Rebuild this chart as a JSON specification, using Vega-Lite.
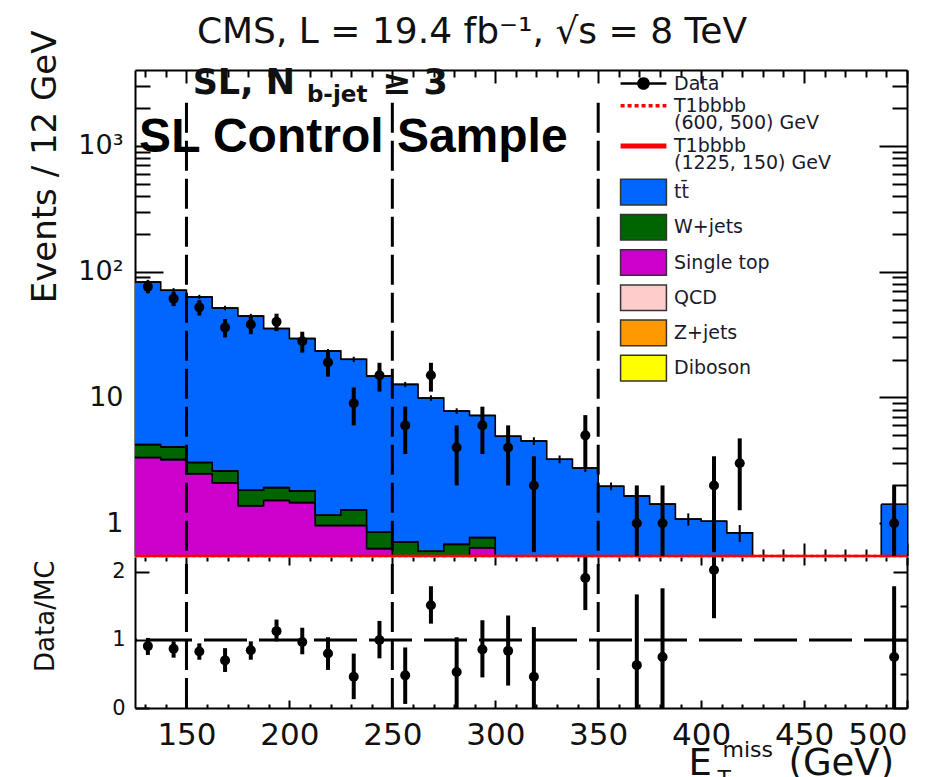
{
  "$schema": "https://vega.github.io/schema/vega-lite/v6.json",
  "width": 772,
  "height": 638,
  "autosize": {"type": "none"},
  "padding": {"left": 135, "top": 70, "right": 34, "bottom": 69},
  "background": "#ffffff",
  "title": {
    "text": "CMS, L = 19.4 fb\u207b\u00b9, \u221as = 8 TeV",
    "anchor": "middle",
    "frame": "group",
    "dx": -49,
    "offset": -49,
    "baseline": "alphabetic",
    "font": "DejaVu Sans",
    "fontSize": 36,
    "fontWeight": "normal",
    "color": "#111111"
  },
  "config": {
    "view": {"stroke": null},
    "font": "DejaVu Sans",
    "axis": {
      "grid": false,
      "zindex": 1,
      "domainColor": "#000000",
      "domainWidth": 2,
      "tickColor": "#000000",
      "tickWidth": 2,
      "labelColor": "#111111",
      "titleColor": "#111111",
      "labelFont": "DejaVu Sans",
      "titleFont": "DejaVu Sans",
      "titleFontWeight": "normal",
      "labelOverlap": false,
      "labelBound": false
    }
  },
  "datasets": {
    "mc": [
      {"lo": 125, "hi": 137.5, "process": "tt\u0304", "n": 78.58},
      {"lo": 137.5, "hi": 150, "process": "tt\u0304", "n": 67.06},
      {"lo": 150, "hi": 162.5, "process": "tt\u0304", "n": 59.86},
      {"lo": 162.5, "hi": 175, "process": "tt\u0304", "n": 48.8},
      {"lo": 175, "hi": 187.5, "process": "tt\u0304", "n": 42.57},
      {"lo": 187.5, "hi": 200, "process": "tt\u0304", "n": 33.38},
      {"lo": 200, "hi": 212.5, "process": "tt\u0304", "n": 27.59},
      {"lo": 212.5, "hi": 225, "process": "tt\u0304", "n": 22.24},
      {"lo": 225, "hi": 237.5, "process": "tt\u0304", "n": 18.82},
      {"lo": 237.5, "hi": 250, "process": "tt\u0304", "n": 13.95},
      {"lo": 250, "hi": 262.5, "process": "tt\u0304", "n": 11.99},
      {"lo": 262.5, "hi": 275, "process": "tt\u0304", "n": 9.3},
      {"lo": 275, "hi": 287.5, "process": "tt\u0304", "n": 7.12},
      {"lo": 287.5, "hi": 300, "process": "tt\u0304", "n": 6.43},
      {"lo": 300, "hi": 312.5, "process": "tt\u0304", "n": 4.92},
      {"lo": 312.5, "hi": 325, "process": "tt\u0304", "n": 4.51},
      {"lo": 325, "hi": 337.5, "process": "tt\u0304", "n": 3.23},
      {"lo": 337.5, "hi": 350, "process": "tt\u0304", "n": 2.75},
      {"lo": 350, "hi": 362.5, "process": "tt\u0304", "n": 1.97},
      {"lo": 362.5, "hi": 375, "process": "tt\u0304", "n": 1.65},
      {"lo": 375, "hi": 387.5, "process": "tt\u0304", "n": 1.42},
      {"lo": 387.5, "hi": 400, "process": "tt\u0304", "n": 1.08},
      {"lo": 400, "hi": 412.5, "process": "tt\u0304", "n": 1.04},
      {"lo": 412.5, "hi": 425, "process": "tt\u0304", "n": 0.84},
      {"lo": 425, "hi": 437.5, "process": "tt\u0304", "n": 0},
      {"lo": 437.5, "hi": 450, "process": "tt\u0304", "n": 0},
      {"lo": 450, "hi": 462.5, "process": "tt\u0304", "n": 0},
      {"lo": 462.5, "hi": 475, "process": "tt\u0304", "n": 0},
      {"lo": 475, "hi": 487.5, "process": "tt\u0304", "n": 0},
      {"lo": 487.5, "hi": 500, "process": "tt\u0304", "n": 1.42},
      {"lo": 125, "hi": 137.5, "process": "W+jets", "n": 0.89},
      {"lo": 137.5, "hi": 150, "process": "W+jets", "n": 0.83},
      {"lo": 150, "hi": 162.5, "process": "W+jets", "n": 0.56},
      {"lo": 162.5, "hi": 175, "process": "W+jets", "n": 0.51},
      {"lo": 175, "hi": 187.5, "process": "W+jets", "n": 0.45},
      {"lo": 187.5, "hi": 200, "process": "W+jets", "n": 0.4},
      {"lo": 200, "hi": 212.5, "process": "W+jets", "n": 0.35},
      {"lo": 212.5, "hi": 225, "process": "W+jets", "n": 0.2},
      {"lo": 225, "hi": 237.5, "process": "W+jets", "n": 0.32},
      {"lo": 237.5, "hi": 250, "process": "W+jets", "n": 0.22},
      {"lo": 250, "hi": 262.5, "process": "W+jets", "n": 0.71},
      {"lo": 262.5, "hi": 275, "process": "W+jets", "n": 0.6},
      {"lo": 275, "hi": 287.5, "process": "W+jets", "n": 0.68},
      {"lo": 287.5, "hi": 300, "process": "W+jets", "n": 0.13},
      {"lo": 300, "hi": 312.5, "process": "W+jets", "n": 0},
      {"lo": 312.5, "hi": 325, "process": "W+jets", "n": 0},
      {"lo": 325, "hi": 337.5, "process": "W+jets", "n": 0},
      {"lo": 337.5, "hi": 350, "process": "W+jets", "n": 0},
      {"lo": 350, "hi": 362.5, "process": "W+jets", "n": 0},
      {"lo": 362.5, "hi": 375, "process": "W+jets", "n": 0},
      {"lo": 375, "hi": 387.5, "process": "W+jets", "n": 0},
      {"lo": 387.5, "hi": 400, "process": "W+jets", "n": 0},
      {"lo": 400, "hi": 412.5, "process": "W+jets", "n": 0},
      {"lo": 412.5, "hi": 425, "process": "W+jets", "n": 0},
      {"lo": 425, "hi": 437.5, "process": "W+jets", "n": 0},
      {"lo": 437.5, "hi": 450, "process": "W+jets", "n": 0},
      {"lo": 450, "hi": 462.5, "process": "W+jets", "n": 0},
      {"lo": 462.5, "hi": 475, "process": "W+jets", "n": 0},
      {"lo": 475, "hi": 487.5, "process": "W+jets", "n": 0},
      {"lo": 487.5, "hi": 500, "process": "W+jets", "n": 0},
      {"lo": 125, "hi": 137.5, "process": "Single top", "n": 3.33},
      {"lo": 137.5, "hi": 150, "process": "Single top", "n": 3.21},
      {"lo": 150, "hi": 162.5, "process": "Single top", "n": 2.48},
      {"lo": 162.5, "hi": 175, "process": "Single top", "n": 2.09},
      {"lo": 175, "hi": 187.5, "process": "Single top", "n": 1.38},
      {"lo": 187.5, "hi": 200, "process": "Single top", "n": 1.52},
      {"lo": 200, "hi": 212.5, "process": "Single top", "n": 1.46},
      {"lo": 212.5, "hi": 225, "process": "Single top", "n": 0.96},
      {"lo": 225, "hi": 237.5, "process": "Single top", "n": 0.96},
      {"lo": 237.5, "hi": 250, "process": "Single top", "n": 0.63},
      {"lo": 250, "hi": 262.5, "process": "Single top", "n": 0},
      {"lo": 262.5, "hi": 275, "process": "Single top", "n": 0},
      {"lo": 275, "hi": 287.5, "process": "Single top", "n": 0},
      {"lo": 287.5, "hi": 300, "process": "Single top", "n": 0.64},
      {"lo": 300, "hi": 312.5, "process": "Single top", "n": 0},
      {"lo": 312.5, "hi": 325, "process": "Single top", "n": 0},
      {"lo": 325, "hi": 337.5, "process": "Single top", "n": 0},
      {"lo": 337.5, "hi": 350, "process": "Single top", "n": 0},
      {"lo": 350, "hi": 362.5, "process": "Single top", "n": 0},
      {"lo": 362.5, "hi": 375, "process": "Single top", "n": 0},
      {"lo": 375, "hi": 387.5, "process": "Single top", "n": 0},
      {"lo": 387.5, "hi": 400, "process": "Single top", "n": 0},
      {"lo": 400, "hi": 412.5, "process": "Single top", "n": 0},
      {"lo": 412.5, "hi": 425, "process": "Single top", "n": 0},
      {"lo": 425, "hi": 437.5, "process": "Single top", "n": 0},
      {"lo": 437.5, "hi": 450, "process": "Single top", "n": 0},
      {"lo": 450, "hi": 462.5, "process": "Single top", "n": 0},
      {"lo": 462.5, "hi": 475, "process": "Single top", "n": 0},
      {"lo": 475, "hi": 487.5, "process": "Single top", "n": 0},
      {"lo": 487.5, "hi": 500, "process": "Single top", "n": 0}
    ],
    "sig": [
      {"lo": 125, "hi": 137.5, "model": "T1bbbb (600, 500) GeV", "n": 0.4},
      {"lo": 137.5, "hi": 150, "model": "T1bbbb (600, 500) GeV", "n": 0.36},
      {"lo": 150, "hi": 162.5, "model": "T1bbbb (600, 500) GeV", "n": 0.32},
      {"lo": 162.5, "hi": 175, "model": "T1bbbb (600, 500) GeV", "n": 0.28},
      {"lo": 175, "hi": 187.5, "model": "T1bbbb (600, 500) GeV", "n": 0.25},
      {"lo": 187.5, "hi": 200, "model": "T1bbbb (600, 500) GeV", "n": 0.22},
      {"lo": 200, "hi": 212.5, "model": "T1bbbb (600, 500) GeV", "n": 0.19},
      {"lo": 212.5, "hi": 225, "model": "T1bbbb (600, 500) GeV", "n": 0.16},
      {"lo": 225, "hi": 237.5, "model": "T1bbbb (600, 500) GeV", "n": 0.14},
      {"lo": 237.5, "hi": 250, "model": "T1bbbb (600, 500) GeV", "n": 0.12},
      {"lo": 250, "hi": 262.5, "model": "T1bbbb (600, 500) GeV", "n": 0.1},
      {"lo": 262.5, "hi": 275, "model": "T1bbbb (600, 500) GeV", "n": 0.085},
      {"lo": 275, "hi": 287.5, "model": "T1bbbb (600, 500) GeV", "n": 0.07},
      {"lo": 287.5, "hi": 300, "model": "T1bbbb (600, 500) GeV", "n": 0.06},
      {"lo": 300, "hi": 312.5, "model": "T1bbbb (600, 500) GeV", "n": 0.05},
      {"lo": 312.5, "hi": 325, "model": "T1bbbb (600, 500) GeV", "n": 0.04},
      {"lo": 325, "hi": 337.5, "model": "T1bbbb (600, 500) GeV", "n": 0.035},
      {"lo": 337.5, "hi": 350, "model": "T1bbbb (600, 500) GeV", "n": 0.03},
      {"lo": 350, "hi": 362.5, "model": "T1bbbb (600, 500) GeV", "n": 0.025},
      {"lo": 362.5, "hi": 375, "model": "T1bbbb (600, 500) GeV", "n": 0.02},
      {"lo": 375, "hi": 387.5, "model": "T1bbbb (600, 500) GeV", "n": 0.017},
      {"lo": 387.5, "hi": 400, "model": "T1bbbb (600, 500) GeV", "n": 0.014},
      {"lo": 400, "hi": 412.5, "model": "T1bbbb (600, 500) GeV", "n": 0.012},
      {"lo": 412.5, "hi": 425, "model": "T1bbbb (600, 500) GeV", "n": 0.01},
      {"lo": 425, "hi": 437.5, "model": "T1bbbb (600, 500) GeV", "n": 0.008},
      {"lo": 437.5, "hi": 450, "model": "T1bbbb (600, 500) GeV", "n": 0.007},
      {"lo": 450, "hi": 462.5, "model": "T1bbbb (600, 500) GeV", "n": 0.006},
      {"lo": 462.5, "hi": 475, "model": "T1bbbb (600, 500) GeV", "n": 0.005},
      {"lo": 475, "hi": 487.5, "model": "T1bbbb (600, 500) GeV", "n": 0.004},
      {"lo": 487.5, "hi": 500, "model": "T1bbbb (600, 500) GeV", "n": 0.003},
      {"lo": 125, "hi": 137.5, "model": "T1bbbb (1225, 150) GeV", "n": 0.02},
      {"lo": 137.5, "hi": 150, "model": "T1bbbb (1225, 150) GeV", "n": 0.02},
      {"lo": 150, "hi": 162.5, "model": "T1bbbb (1225, 150) GeV", "n": 0.025},
      {"lo": 162.5, "hi": 175, "model": "T1bbbb (1225, 150) GeV", "n": 0.025},
      {"lo": 175, "hi": 187.5, "model": "T1bbbb (1225, 150) GeV", "n": 0.03},
      {"lo": 187.5, "hi": 200, "model": "T1bbbb (1225, 150) GeV", "n": 0.03},
      {"lo": 200, "hi": 212.5, "model": "T1bbbb (1225, 150) GeV", "n": 0.035},
      {"lo": 212.5, "hi": 225, "model": "T1bbbb (1225, 150) GeV", "n": 0.035},
      {"lo": 225, "hi": 237.5, "model": "T1bbbb (1225, 150) GeV", "n": 0.04},
      {"lo": 237.5, "hi": 250, "model": "T1bbbb (1225, 150) GeV", "n": 0.04},
      {"lo": 250, "hi": 262.5, "model": "T1bbbb (1225, 150) GeV", "n": 0.045},
      {"lo": 262.5, "hi": 275, "model": "T1bbbb (1225, 150) GeV", "n": 0.045},
      {"lo": 275, "hi": 287.5, "model": "T1bbbb (1225, 150) GeV", "n": 0.05},
      {"lo": 287.5, "hi": 300, "model": "T1bbbb (1225, 150) GeV", "n": 0.05},
      {"lo": 300, "hi": 312.5, "model": "T1bbbb (1225, 150) GeV", "n": 0.055},
      {"lo": 312.5, "hi": 325, "model": "T1bbbb (1225, 150) GeV", "n": 0.055},
      {"lo": 325, "hi": 337.5, "model": "T1bbbb (1225, 150) GeV", "n": 0.06},
      {"lo": 337.5, "hi": 350, "model": "T1bbbb (1225, 150) GeV", "n": 0.06},
      {"lo": 350, "hi": 362.5, "model": "T1bbbb (1225, 150) GeV", "n": 0.065},
      {"lo": 362.5, "hi": 375, "model": "T1bbbb (1225, 150) GeV", "n": 0.065},
      {"lo": 375, "hi": 387.5, "model": "T1bbbb (1225, 150) GeV", "n": 0.07},
      {"lo": 387.5, "hi": 400, "model": "T1bbbb (1225, 150) GeV", "n": 0.07},
      {"lo": 400, "hi": 412.5, "model": "T1bbbb (1225, 150) GeV", "n": 0.075},
      {"lo": 412.5, "hi": 425, "model": "T1bbbb (1225, 150) GeV", "n": 0.075},
      {"lo": 425, "hi": 437.5, "model": "T1bbbb (1225, 150) GeV", "n": 0.08},
      {"lo": 437.5, "hi": 450, "model": "T1bbbb (1225, 150) GeV", "n": 0.08},
      {"lo": 450, "hi": 462.5, "model": "T1bbbb (1225, 150) GeV", "n": 0.085},
      {"lo": 462.5, "hi": 475, "model": "T1bbbb (1225, 150) GeV", "n": 0.085},
      {"lo": 475, "hi": 487.5, "model": "T1bbbb (1225, 150) GeV", "n": 0.09},
      {"lo": 487.5, "hi": 500, "model": "T1bbbb (1225, 150) GeV", "n": 0.09}
    ],
    "mcstat": [
      {"c": 131.25, "lo": 79.5, "hi": 86.1},
      {"c": 143.75, "lo": 68.3, "hi": 73.9},
      {"c": 156.25, "lo": 60.4, "hi": 65.4},
      {"c": 168.75, "lo": 49.3, "hi": 53.5},
      {"c": 181.25, "lo": 42.6, "hi": 46.2},
      {"c": 193.75, "lo": 33.9, "hi": 36.7},
      {"c": 206.25, "lo": 28.2, "hi": 30.6},
      {"c": 218.75, "lo": 22.5, "hi": 24.3},
      {"c": 231.25, "lo": 19.1, "hi": 21.1},
      {"c": 243.75, "lo": 14.1, "hi": 15.5},
      {"c": 256.25, "lo": 12.1, "hi": 13.3},
      {"c": 268.75, "lo": 9.4, "hi": 10.4},
      {"c": 281.25, "lo": 7.4, "hi": 8.2},
      {"c": 293.75, "lo": 6.8, "hi": 7.6},
      {"c": 306.25, "lo": 4.58, "hi": 5.26},
      {"c": 318.75, "lo": 4.19, "hi": 4.83},
      {"c": 331.25, "lo": 3.0, "hi": 3.46},
      {"c": 343.75, "lo": 2.56, "hi": 2.94},
      {"c": 356.25, "lo": 1.83, "hi": 2.11},
      {"c": 368.75, "lo": 1.5, "hi": 1.8},
      {"c": 381.25, "lo": 1.29, "hi": 1.55},
      {"c": 393.75, "lo": 0.96, "hi": 1.2},
      {"c": 406.25, "lo": 0.93, "hi": 1.15},
      {"c": 418.75, "lo": 0.71, "hi": 0.97},
      {"c": 493.75, "lo": 1.21, "hi": 1.63}
    ],
    "obs": [
      {"c": 131.25, "n": 76, "lo": 67.28, "hi": 84.72},
      {"c": 143.75, "n": 61, "lo": 53.19, "hi": 68.81},
      {"c": 156.25, "n": 52, "lo": 44.79, "hi": 59.21},
      {"c": 168.75, "n": 36, "lo": 30, "hi": 42},
      {"c": 181.25, "n": 38, "lo": 31.84, "hi": 44.16},
      {"c": 193.75, "n": 40, "lo": 33.68, "hi": 46.32},
      {"c": 206.25, "n": 28, "lo": 22.71, "hi": 33.29},
      {"c": 218.75, "n": 19, "lo": 14.64, "hi": 23.36},
      {"c": 231.25, "n": 9, "lo": 6, "hi": 12},
      {"c": 243.75, "n": 15, "lo": 11.13, "hi": 18.87},
      {"c": 256.25, "n": 6, "lo": 3.55, "hi": 8.45},
      {"c": 268.75, "n": 15, "lo": 11.13, "hi": 18.87},
      {"c": 281.25, "n": 4, "lo": 2, "hi": 6},
      {"c": 293.75, "n": 6, "lo": 3.55, "hi": 8.45},
      {"c": 306.25, "n": 4, "lo": 2, "hi": 6},
      {"c": 318.75, "n": 2, "lo": 0.59, "hi": 3.41},
      {"c": 343.75, "n": 5, "lo": 2.76, "hi": 7.24},
      {"c": 368.75, "n": 1, "lo": 0, "hi": 2},
      {"c": 381.25, "n": 1, "lo": 0, "hi": 2},
      {"c": 406.25, "n": 2, "lo": 0.59, "hi": 3.41},
      {"c": 418.75, "n": 3, "lo": 1.27, "hi": 4.73},
      {"c": 493.75, "n": 1, "lo": 0, "hi": 2}
    ],
    "ratio": [
      {"c": 131.25, "r": 0.91, "lo": 0.78, "hi": 1.03},
      {"c": 143.75, "r": 0.87, "lo": 0.74, "hi": 0.98},
      {"c": 156.25, "r": 0.83, "lo": 0.71, "hi": 0.95},
      {"c": 168.75, "r": 0.7, "lo": 0.53, "hi": 0.88},
      {"c": 181.25, "r": 0.85, "lo": 0.71, "hi": 0.98},
      {"c": 193.75, "r": 1.13, "lo": 0.98, "hi": 1.3},
      {"c": 206.25, "r": 0.97, "lo": 0.79, "hi": 1.18},
      {"c": 218.75, "r": 0.8, "lo": 0.56, "hi": 1.04},
      {"c": 231.25, "r": 0.46, "lo": 0.13, "hi": 0.8},
      {"c": 243.75, "r": 1.0, "lo": 0.73, "hi": 1.28},
      {"c": 256.25, "r": 0.48, "lo": 0.06, "hi": 0.89},
      {"c": 268.75, "r": 1.51, "lo": 1.24, "hi": 1.79},
      {"c": 281.25, "r": 0.53, "lo": 0, "hi": 1.04},
      {"c": 293.75, "r": 0.86, "lo": 0.45, "hi": 1.29},
      {"c": 306.25, "r": 0.84, "lo": 0.33, "hi": 1.36},
      {"c": 318.75, "r": 0.46, "lo": 0, "hi": 1.19},
      {"c": 343.75, "r": 1.91, "lo": 1.44, "hi": 2.4},
      {"c": 368.75, "r": 0.63, "lo": 0, "hi": 1.67},
      {"c": 381.25, "r": 0.75, "lo": 0, "hi": 1.76},
      {"c": 406.25, "r": 2.03, "lo": 1.32, "hi": 2.75},
      {"c": 493.75, "r": 0.75, "lo": 0, "hi": 1.79}
    ],
    "cuts": [{"cut": 150}, {"cut": 250}, {"cut": 350}]
  },
  "resolve": {"scale": {"y": "independent"}, "axis": {"x": "independent", "y": "independent"}},
  "layer": [
    {
      "resolve": {"axis": {"x": "independent", "y": "independent"}},
      "layer": [
        {
          "data": {"name": "mc"},
          "transform": [
            {"stack": "n", "groupby": ["lo"], "sort": [{"field": "process", "order": "ascending"}], "as": ["y0", "y1"]},
            {"filter": "datum.process === 'tt\u0304'"}
          ],
          "mark": {"type": "area", "interpolate": "step-after", "color": "#0066ff", "opacity": 1, "invalid": null},
          "encoding": {
            "x": {"field": "lo", "type": "quantitative", "axis": null},
            "y": {"field": "y1", "type": "quantitative", "axis": null},
            "y2": {"field": "y0"}
          }
        },
        {
          "data": {"name": "mc"},
          "transform": [
            {"stack": "n", "groupby": ["lo"], "sort": [{"field": "process", "order": "ascending"}], "as": ["y0", "y1"]},
            {"filter": "datum.process === 'W+jets'"}
          ],
          "mark": {"type": "area", "interpolate": "step-after", "color": "#006400", "opacity": 1, "invalid": null},
          "encoding": {
            "x": {"field": "lo", "type": "quantitative", "axis": null},
            "y": {"field": "y1", "type": "quantitative", "axis": null},
            "y2": {"field": "y0"}
          }
        },
        {
          "data": {"name": "mc"},
          "transform": [
            {"stack": "n", "groupby": ["lo"], "sort": [{"field": "process", "order": "ascending"}], "as": ["y0", "y1"]},
            {"filter": "datum.process === 'Single top'"}
          ],
          "mark": {"type": "area", "interpolate": "step-after", "color": "#cc00cc", "opacity": 1, "invalid": null},
          "encoding": {
            "x": {"field": "lo", "type": "quantitative", "axis": null},
            "y": {"field": "y1", "type": "quantitative", "axis": null},
            "y2": {"field": "y0"}
          }
        },
        {
          "data": {"name": "mc"},
          "transform": [{"stack": "n", "groupby": ["lo"], "sort": [{"field": "process", "order": "ascending"}], "as": ["y0", "y1"]}],
          "mark": {"type": "rect", "invalid": null},
          "encoding": {
            "x": {
              "field": "lo", "type": "quantitative",
              "scale": {"domain": [125, 500], "nice": false, "zero": false},
              "axis": {
                "orient": "top", "labels": false, "title": null,
                "values": [130,140,150,160,170,180,190,200,210,220,230,240,250,260,270,280,290,300,310,320,330,340,350,360,370,380,390,400,410,420,430,440,450,460,470,480,490,500],
                "tickSize": {"condition": {"test": "datum.value % 50 === 0", "value": -13}, "value": -7}
              }
            },
            "x2": {"field": "hi"},
            "y": {
              "field": "y1", "type": "quantitative",
              "scale": {"type": "log", "domain": [0.55, 4000], "range": [486, 0], "clamp": true, "nice": false},
              "axis": {
                "orient": "left",
                "values": [0.6,0.7,0.8,0.9,1,2,3,4,5,6,7,8,9,10,20,30,40,50,60,70,80,90,100,200,300,400,500,600,700,800,900,1000,2000,3000],
                "labelExpr": "datum.value === 1 ? '1' : datum.value === 10 ? '10' : datum.value === 100 ? '10\u00b2' : datum.value === 1000 ? '10\u00b3' : ''",
                "labelFontSize": 27,
                "labelPadding": 40,
                "tickSize": {"condition": {"test": "datum.value === 1 || datum.value === 10 || datum.value === 100 || datum.value === 1000", "value": -28}, "value": -15},
                "title": "Events / 12 GeV",
                "titleFontSize": 34,
                "titleAngle": -90,
                "titleAlign": "right",
                "titleBaseline": "middle",
                "titleX": -90,
                "titleY": -40
              }
            },
            "y2": {"field": "y0"},
            "color": {
              "field": "process", "type": "nominal",
              "scale": {
                "domain": ["Data", "T1bbbb|(600, 500) GeV", "T1bbbb|(1225, 150) GeV", "tt\u0304", "W+jets", "Single top", "QCD", "Z+jets", "Diboson"],
                "range": ["#000000", "#ff0000", "#ff0000", "#0066ff", "#006400", "#cc00cc", "#ffcccc", "#ff9900", "#ffff00"]
              },
              "legend": {
                "orient": "none", "legendX": 499, "legendY": 4, "direction": "vertical",
                "title": null, "padding": 0, "rowPadding": 2.2, "symbolSize": 1225,
                "labelFont": "DejaVu Sans", "labelFontSize": 19, "labelColor": "#1a1a2e",
                "labelOffset": 21, "labelLimit": 300,
                "labelExpr": "split(datum.label, '|')",
                "encode": {
                  "symbols": {
                    "update": {
                      "shape": {"signal": "datum.value === 'Data' ? 'M-1.31,0H1.31M0.29,0A0.29,0.29,0,1,1,-0.29,0A0.29,0.29,0,1,1,0.29,0Z' : (indexof(datum.value, 'T1bbbb') === 0 ? 'M-1.31,0H1.31' : 'M-1.31,-0.73H1.31V0.73H-1.31Z')"},
                      "stroke": {"signal": "datum.value === 'Data' ? '#000000' : (indexof(datum.value, 'T1bbbb') === 0 ? '#ff0000' : '#333333')"},
                      "strokeWidth": {"signal": "datum.value === 'Data' ? 2.5 : (datum.value === 'T1bbbb|(1225, 150) GeV' ? 5 : (datum.value === 'T1bbbb|(600, 500) GeV' ? 3.5 : 1.5))"},
                      "strokeDash": {"signal": "datum.value === 'T1bbbb|(600, 500) GeV' ? [4, 3] : [1, 0]"},
                      "opacity": {"value": 1},
                      "fillOpacity": {"value": 1}
                    }
                  },
                  "labels": {"update": {"lineHeight": {"value": 17}}}
                }
              }
            }
          }
        },
        {
          "data": {"name": "mc"},
          "transform": [{"stack": "n", "groupby": ["lo"], "sort": [{"field": "process", "order": "ascending"}], "as": ["y0", "y1"]}],
          "mark": {"type": "line", "interpolate": "step-after", "color": "#000000", "strokeWidth": 1.6, "invalid": null},
          "encoding": {
            "x": {
              "field": "lo", "type": "quantitative",
              "axis": {"orient": "bottom", "labels": false, "ticks": false, "domain": false, "title": "T", "titleFontSize": 22, "titleX": 582, "titleY": 77, "titleAlign": "left", "titleBaseline": "alphabetic"}
            },
            "y": {"field": "y1", "type": "quantitative", "axis": null},
            "detail": {"field": "process", "type": "nominal"}
          }
        },
        {
          "data": {"name": "mc"},
          "transform": [{"stack": "n", "groupby": ["lo"], "sort": [{"field": "process", "order": "ascending"}], "as": ["y0", "y1"]}],
          "mark": {"type": "rule", "color": "#000000", "strokeWidth": 1.6, "invalid": null},
          "encoding": {
            "x": {
              "field": "lo", "type": "quantitative",
              "axis": {
                "orient": "bottom", "offset": -152, "labels": false, "domain": false, "title": null,
                "values": [130,140,150,160,170,180,190,200,210,220,230,240,250,260,270,280,290,300,310,320,330,340,350,360,370,380,390,400,410,420,430,440,450,460,470,480,490,500],
                "tickSize": {"condition": {"test": "datum.value % 50 === 0", "value": -13}, "value": -7}
              }
            },
            "x2": {"field": "hi"},
            "y": {
              "field": "y1", "type": "quantitative",
              "axis": {
                "orient": "right", "labels": false, "title": null,
                "values": [0.6,0.7,0.8,0.9,1,2,3,4,5,6,7,8,9,10,20,30,40,50,60,70,80,90,100,200,300,400,500,600,700,800,900,1000,2000,3000],
                "tickSize": {"condition": {"test": "datum.value === 1 || datum.value === 10 || datum.value === 100 || datum.value === 1000", "value": -28}, "value": -15}
              }
            }
          }
        },
        {
          "data": {"name": "mcstat"},
          "mark": {"type": "rule", "color": "#000000", "strokeWidth": 2},
          "encoding": {
            "x": {
              "field": "c", "type": "quantitative",
              "axis": {"orient": "bottom", "labels": false, "ticks": false, "domain": false, "title": "miss", "titleFontSize": 22, "titleX": 587, "titleY": 48, "titleAlign": "left", "titleBaseline": "alphabetic"}
            },
            "y": {"field": "lo", "type": "quantitative", "axis": null},
            "y2": {"field": "hi"}
          }
        },
        {
          "data": {"name": "sig"},
          "mark": {"type": "rule", "color": "#ff0000", "strokeWidth": 2.5, "invalid": null},
          "encoding": {
            "x": {
              "field": "lo", "type": "quantitative",
              "axis": {"orient": "bottom", "labels": false, "ticks": false, "domain": false, "title": "(GeV)", "titleFontSize": 37, "titleX": 653, "titleY": 66, "titleAlign": "left", "titleBaseline": "alphabetic"}
            },
            "x2": {"field": "hi"},
            "y": {"field": "n", "type": "quantitative", "axis": null},
            "strokeDash": {
              "field": "model", "type": "nominal",
              "scale": {"domain": ["T1bbbb (600, 500) GeV", "T1bbbb (1225, 150) GeV"], "range": [[3, 3], [1, 0]]},
              "legend": null
            }
          }
        },
        {
          "data": {"name": "cuts"},
          "mark": {"type": "rule", "color": "#000000", "strokeWidth": 3, "strokeDash": [30, 8]},
          "encoding": {
            "x": {"field": "cut", "type": "quantitative", "axis": null},
            "y": {"datum": 2200, "axis": null},
            "y2": {"datum": 0.55}
          }
        },
        {
          "data": {"name": "obs"},
          "mark": {"type": "rule", "color": "#000000", "strokeWidth": 4, "invalid": null},
          "encoding": {
            "x": {"field": "c", "type": "quantitative", "axis": null},
            "y": {"field": "lo", "type": "quantitative", "axis": null},
            "y2": {"field": "hi"}
          }
        },
        {
          "data": {"name": "obs"},
          "mark": {"type": "circle", "color": "#000000", "size": 100, "opacity": 1},
          "encoding": {
            "x": {"field": "c", "type": "quantitative", "axis": null},
            "y": {"field": "n", "type": "quantitative", "axis": null}
          }
        },
        {
          "data": {"values": [{}]},
          "mark": {"type": "text", "text": "SL, N", "font": "DejaVu Sans", "fontWeight": "bold", "fontSize": 35, "align": "left", "baseline": "alphabetic", "color": "#111111"},
          "encoding": {
            "x": {"datum": 153, "axis": null},
            "y": {"datum": 2600, "axis": null}
          }
        },
        {
          "data": {"values": [{}]},
          "mark": {"type": "text", "text": "b-jet", "font": "DejaVu Sans", "fontWeight": "bold", "fontSize": 23, "align": "left", "baseline": "alphabetic", "color": "#111111"},
          "encoding": {
            "x": {"datum": 208.5, "axis": null},
            "y": {"datum": 2228, "axis": null}
          }
        },
        {
          "data": {"values": [{}]},
          "mark": {"type": "text", "text": "\u2265 3", "font": "DejaVu Sans", "fontWeight": "bold", "fontSize": 35, "align": "left", "baseline": "alphabetic", "color": "#111111"},
          "encoding": {
            "x": {"datum": 245, "axis": null},
            "y": {"datum": 2600, "axis": null}
          }
        },
        {
          "data": {"values": [{}]},
          "mark": {"type": "text", "text": "SL Control Sample", "font": "Liberation Sans", "fontWeight": "bold", "fontSize": 48, "align": "left", "baseline": "alphabetic", "color": "#000000"},
          "encoding": {
            "x": {"datum": 127, "axis": null},
            "y": {"datum": 900, "axis": null}
          }
        }
      ]
    },
    {
      "resolve": {"axis": {"x": "independent", "y": "independent"}},
      "layer": [
        {
          "data": {"values": [{}]},
          "mark": {"type": "rule", "color": "#000000", "strokeWidth": 3, "strokeDash": [43, 12]},
          "encoding": {
            "y": {"datum": 1, "axis": null}
          }
        },
        {
          "data": {"name": "cuts"},
          "mark": {"type": "rule", "color": "#000000", "strokeWidth": 3, "strokeDash": [30, 8]},
          "encoding": {
            "x": {"field": "cut", "type": "quantitative", "axis": null},
            "y": {"datum": 0, "axis": null},
            "y2": {"datum": 2.22}
          }
        },
        {
          "data": {"name": "ratio"},
          "mark": {"type": "rule", "color": "#000000", "strokeWidth": 4},
          "encoding": {
            "x": {
              "field": "c", "type": "quantitative",
              "axis": {
                "orient": "bottom", "offset": -151, "labels": false, "domain": false, "title": null,
                "values": [130,140,150,160,170,180,190,200,210,220,230,240,250,260,270,280,290,300,310,320,330,340,350,360,370,380,390,400,410,420,430,440,450,460,470,480,490,500],
                "tickSize": {"condition": {"test": "datum.value % 50 === 0", "value": 8}, "value": 4}
              }
            },
            "y": {
              "field": "lo", "type": "quantitative",
              "scale": {"domain": [0, 2.22], "range": [638, 487], "clamp": true, "nice": false, "zero": false},
              "axis": {
                "orient": "right", "labels": false, "title": null,
                "values": [0, 0.5, 1, 1.5, 2],
                "tickSize": {"condition": {"test": "datum.value % 1 === 0", "value": -14}, "value": -7}
              }
            },
            "y2": {"field": "hi"}
          }
        },
        {
          "data": {"name": "ratio"},
          "mark": {"type": "circle", "color": "#000000", "size": 100, "opacity": 1},
          "encoding": {
            "x": {
              "field": "c", "type": "quantitative",
              "axis": {
                "orient": "bottom",
                "values": [130,140,150,160,170,180,190,200,210,220,230,240,250,260,270,280,290,300,310,320,330,340,350,360,370,380,390,400,410,420,430,440,450,460,470,480,490,500],
                "format": "d",
                "labelExpr": "datum.value % 50 === 0 ? datum.label : ''",
                "labelFontSize": 31,
                "labelPadding": 20,
                "tickSize": {"condition": {"test": "datum.value % 50 === 0", "value": -8}, "value": -4},
                "title": "E",
                "titleFontSize": 37,
                "titleX": 553,
                "titleY": 66,
                "titleAlign": "left",
                "titleBaseline": "alphabetic"
              }
            },
            "y": {
              "field": "r", "type": "quantitative",
              "axis": {
                "orient": "left",
                "values": [0, 0.5, 1, 1.5, 2],
                "format": "d",
                "labelExpr": "datum.value % 1 === 0 ? datum.label : ''",
                "labelFontSize": 21,
                "labelPadding": 24,
                "tickSize": {"condition": {"test": "datum.value % 1 === 0", "value": -14}, "value": -7},
                "title": "Data/MC",
                "titleFontSize": 26,
                "titleAngle": -90,
                "titleAlign": "right",
                "titleBaseline": "middle",
                "titleX": -90,
                "titleY": 490
              }
            }
          }
        }
      ]
    }
  ]
}
